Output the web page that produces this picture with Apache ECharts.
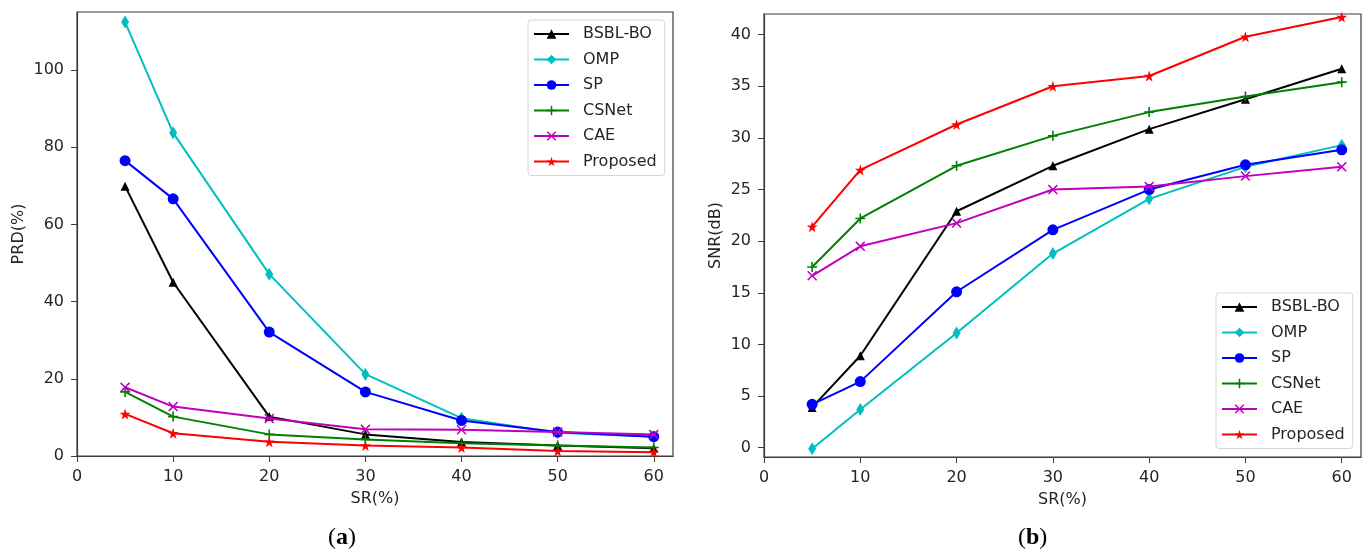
<!DOCTYPE html>
<html>
<head>
<meta charset="utf-8">
<script src="https://cdn.jsdelivr.net/npm/echarts@6/dist/echarts.min.js"></script>
<style>
  html, body { margin: 0; padding: 0; background: #fff; }
  #chart { width: 1367px; height: 553px; }
</style>
</head>
<body>
<div id="chart"></div>
<script>
// sampling ratio (x axis, both panels)
var srList = [5, 10, 20, 30, 40, 50, 60];
var methods = ['BSBL-BO', 'OMP', 'SP', 'CSNet', 'CAE', 'Proposed'];

// (a) PRD(%)
var prdBsbl = [69.9, 45.0, 10.2, 5.6, 3.6, 2.7, 2.0];
var prdOmp = [112.4, 83.7, 47.1, 21.2, 9.8, 6.0, 5.0];
var prdSp = [76.5, 66.6, 32.1, 16.6, 9.2, 6.2, 5.0];
var prdCsnet = [16.6, 10.2, 5.6, 4.3, 3.3, 2.7, 2.2];
var prdCae = [17.8, 12.8, 9.7, 6.9, 6.8, 6.2, 5.6];
var prdProposed = [10.9, 5.9, 3.7, 2.7, 2.2, 1.3, 1.0];

// (b) SNR(dB)
var snrBsbl = [3.9, 8.9, 22.9, 27.3, 30.85, 33.75, 36.7];
var snrOmp = [-0.1, 3.7, 11.1, 18.8, 24.1, 27.2, 29.3];
var snrSp = [4.2, 6.4, 15.1, 21.1, 25.0, 27.4, 28.85];
var snrCsnet = [17.5, 22.2, 27.3, 30.2, 32.5, 34.0, 35.4];
var snrCae = [16.65, 19.5, 21.75, 25.0, 25.3, 26.3, 27.2];
var snrProposed = [21.4, 26.9, 31.3, 35.0, 36.0, 39.8, 41.7];

// tick labels
var xTicks = [0, 10, 20, 30, 40, 50, 60];
var prdTicks = [0, 20, 40, 60, 80, 100];
var snrTicks = [0, 5, 10, 15, 20, 25, 30, 35, 40];

var chart = echarts.init(document.getElementById('chart'));

var colors = ['#000000', '#00bfbf', '#0000ff', '#008000', '#bf00bf', '#ff0000'];
var starPath = 'path://M50,0 L61,35 L98,35 L68,57 L79,91 L50,70 L21,91 L32,57 L2,35 L39,35 Z';
var plusPath = 'path://M4.2,0h1.6v4.2h4.2v1.6h-4.2v4.2h-1.6v-4.2h-4.2v-1.6h4.2z';
var crossPath = 'path://M1.1,0 L5,3.9 L8.9,0 L10,1.1 L6.1,5 L10,8.9 L8.9,10 L5,6.1 L1.1,10 L0,8.9 L3.9,5 L0,1.1 Z';
var symbols = ['triangle', 'diamond', 'circle', plusPath, crossPath, starPath];
var symbolSizes = [9, [8, 13], 11, 10, 10, 11];

var font = 'DejaVu Sans';
var textColor = '#262626';
var spine = '#3c3c3c';

function toPairs(vals) {
  return vals.map(function (v, i) { return [srList[i], v]; });
}

var series = [];
[[prdBsbl, prdOmp, prdSp, prdCsnet, prdCae, prdProposed],
 [snrBsbl, snrOmp, snrSp, snrCsnet, snrCae, snrProposed]].forEach(function (group, g) {
  group.forEach(function (vals, i) {
    series.push({
      name: methods[i],
      type: 'line',
      xAxisIndex: g,
      yAxisIndex: g,
      data: toPairs(vals),
      symbol: symbols[i],
      symbolSize: symbolSizes[i],
      showSymbol: true,
      lineStyle: { color: colors[i], width: 2 },
      itemStyle: { color: colors[i] },
      emphasis: { disabled: true },
      z: 2 + i
    });
  });
});

function xAxis(idx) {
  return {
    type: 'value', gridIndex: idx, min: 0, max: 62,
    name: 'SR(%)', nameLocation: 'middle', nameGap: 35,
    nameTextStyle: { color: textColor, fontFamily: font, fontSize: 16 },
    axisLine: { show: true, onZero: false, lineStyle: { color: spine, width: 1.2 } },
    axisTick: { show: true, length: 6, customValues: xTicks, lineStyle: { color: spine } },
    axisLabel: { color: textColor, fontFamily: font, fontSize: 16, margin: 13, customValues: xTicks },
    splitLine: { show: false }
  };
}

function yAxis(idx, name, min, max, ticks, gap) {
  return {
    type: 'value', gridIndex: idx, min: min, max: max,
    name: name, nameLocation: 'middle', nameGap: gap,
    nameTextStyle: { color: textColor, fontFamily: font, fontSize: 16 },
    axisLine: { show: true, onZero: false, lineStyle: { color: spine, width: 1.2 } },
    axisTick: { show: true, length: 6, customValues: ticks, lineStyle: { color: spine } },
    axisLabel: { color: textColor, fontFamily: font, fontSize: 16, margin: 13, customValues: ticks },
    splitLine: { show: false }
  };
}

function legend(left, top) {
  return {
    data: methods, orient: 'vertical', left: left, top: top,
    itemWidth: 35, itemHeight: 12, itemGap: 9.5,
    padding: [6, 8, 6, 5],
    backgroundColor: 'rgba(255,255,255,0.8)',
    borderColor: '#d6d6d6', borderWidth: 1, borderRadius: 3,
    selectedMode: false,
    textStyle: { color: textColor, fontFamily: font, fontSize: 16, padding: [0, 0, 0, 9] }
  };
}

var captionRich = {
  p: { fontFamily: 'Liberation Serif', fontSize: 24, color: '#000' },
  b: { fontFamily: 'Liberation Serif', fontSize: 24, fontWeight: 'bold', color: '#000' }
};

var option = {
  animation: false,
  backgroundColor: '#fff',
  grid: [
    { left: 77, top: 12, width: 596, height: 444, show: true, borderColor: spine, borderWidth: 1.2, backgroundColor: 'transparent' },
    { left: 764, top: 14, width: 597, height: 443, show: true, borderColor: spine, borderWidth: 1.2, backgroundColor: 'transparent' }
  ],
  xAxis: [xAxis(0), xAxis(1)],
  yAxis: [
    yAxis(0, 'PRD(%)', 0, 115, prdTicks, 50),
    yAxis(1, 'SNR(dB)', -0.9, 42, snrTicks, 40)
  ],
  legend: [legend(528, 20), legend(1216, 293)],
  graphic: [
    { type: 'text', left: 328, top: 526, style: { text: '{p|(}{b|a}{p|)}', rich: captionRich } },
    { type: 'text', left: 1018, top: 526, style: { text: '{p|(}{b|b}{p|)}', rich: captionRich } }
  ],
  series: series
};

chart.setOption(option);
</script>
</body>
</html>
